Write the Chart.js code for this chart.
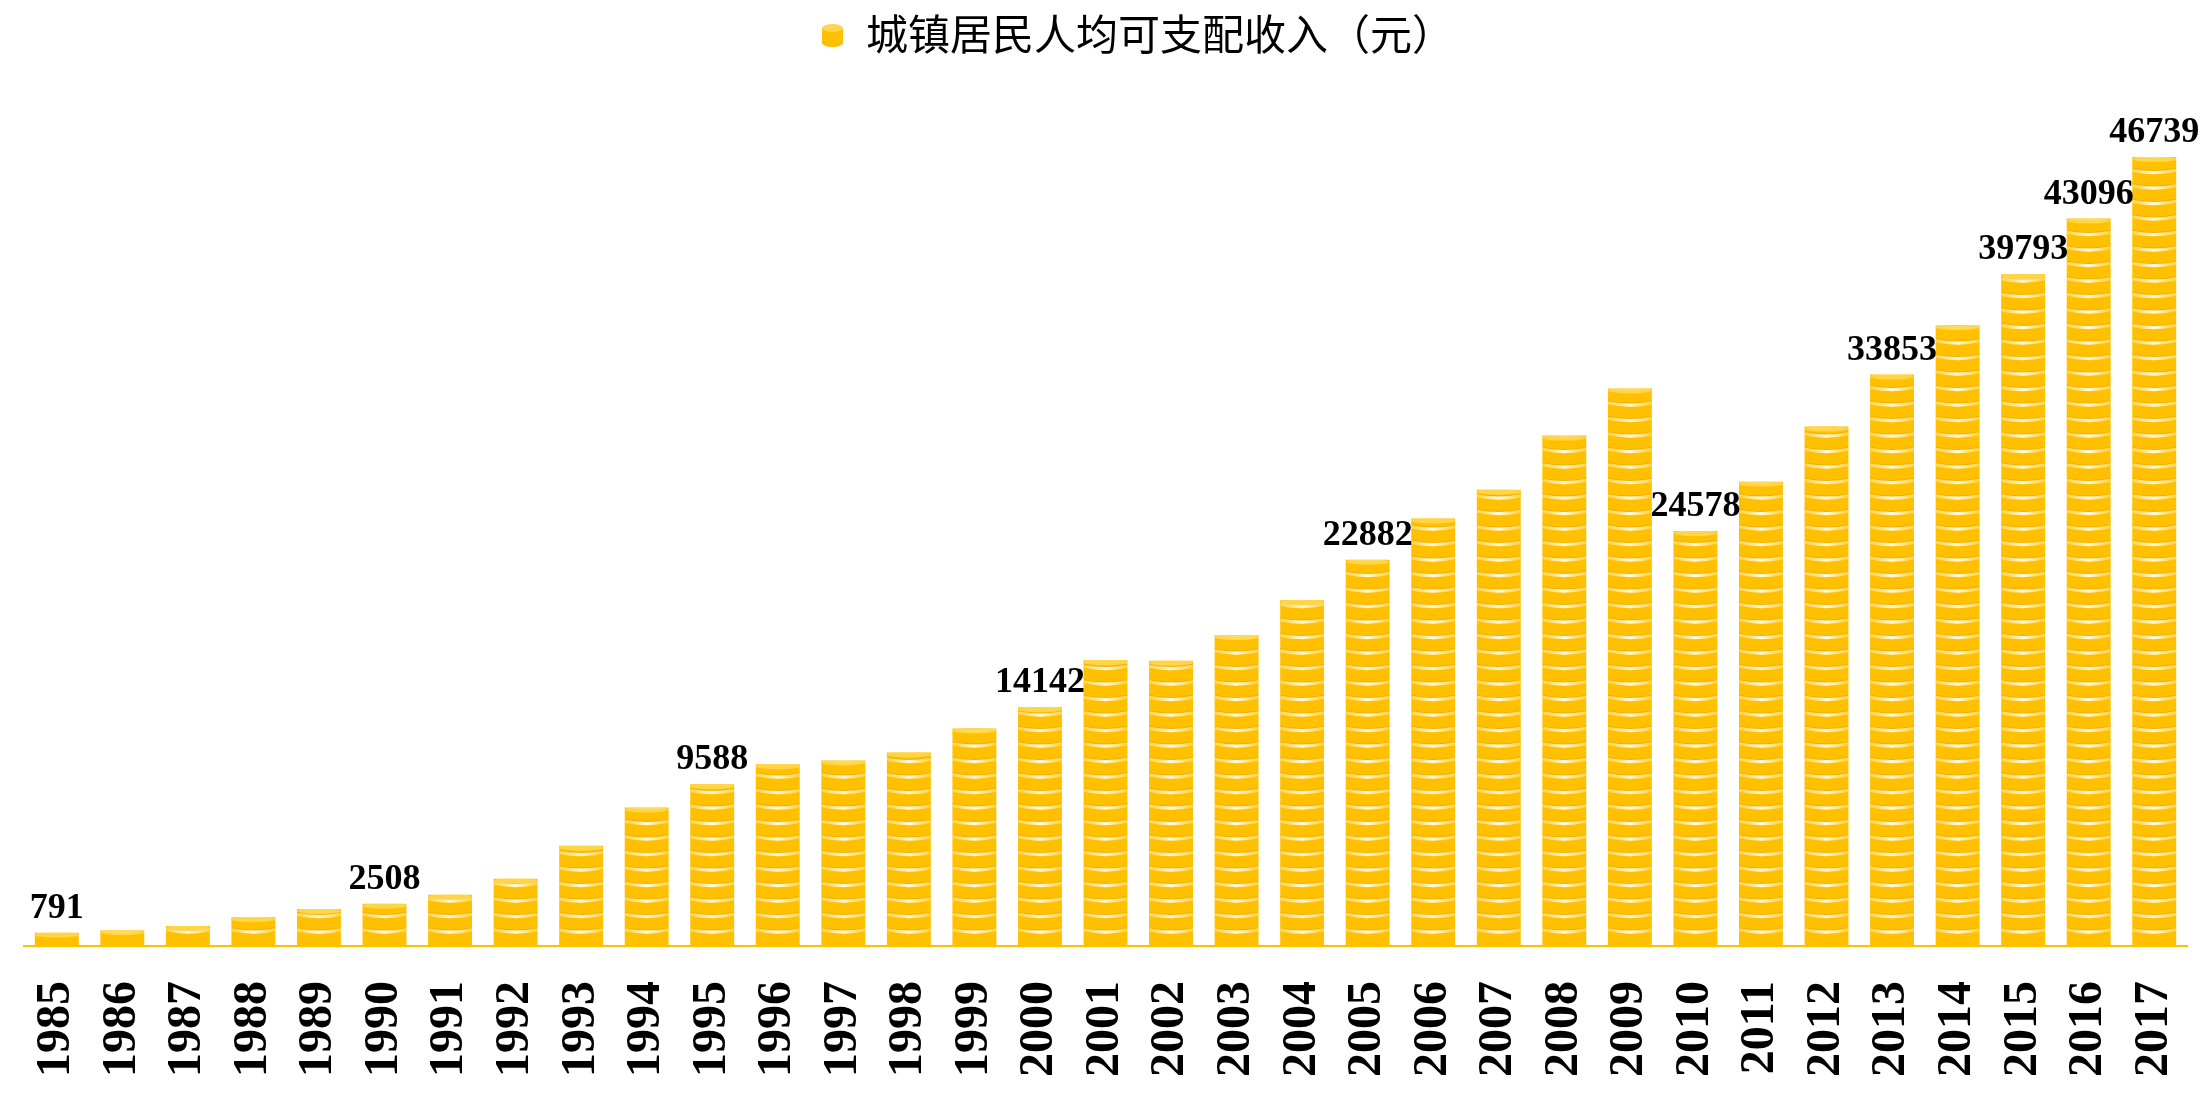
<!DOCTYPE html>
<html>
<head>
<meta charset="utf-8">
<script src="https://cdn.jsdelivr.net/npm/chart.js@4.4.0/dist/chart.umd.min.js"></script>
<style>
  html, body { margin: 0; padding: 0; background: #fff; }
</style>
</head>
<body>
<canvas id="incomeChart" width="2209" height="1103"></canvas>
<script>
// data
const years = ['1985', '1986', '1987', '1988', '1989', '1990', '1991', '1992', '1993', '1994',
  '1995', '1996', '1997', '1998', '1999', '2000', '2001', '2002', '2003', '2004', '2005',
  '2006', '2007', '2008', '2009', '2010', '2011', '2012', '2013', '2014', '2015', '2016', '2017'];
const income = [791, 933, 1188, 1705, 2198, 2508, 3030, 3980, 5941, 8199,
  9588, 10771, 10991, 11466, 12892, 14142, 16932, 16900, 18417, 20479, 22882,
  25327, 27032, 30240, 33030, 24578, 27507, 30774, 33853, 36775, 39793, 43096, 46739];
const labeledYears = ['1985', '1990', '1995', '2000', '2005', '2010', '2013', '2015', '2016', '2017'];
const seriesName = '城镇居民人均可支配收入（元）';

const GOLD = '#FFC000';
const COIN_H = 15.5;

// coin stripes drawn over each bar
const coinPlugin = {
  id: 'coins',
  afterDatasetsDraw(chart) {
    const ctx = chart.ctx;
    chart.getDatasetMeta(0).data.forEach(bar => {
      const { x, y, base, width } = bar.getProps(['x', 'y', 'base', 'width'], true);
      const left = x - width / 2, right = x + width / 2;
      ctx.save();
      ctx.beginPath();
      ctx.rect(left, y, width, base - y);
      ctx.clip();
      const grad = ctx.createLinearGradient(left, 0, right, 0);
      grad.addColorStop(0, 'rgba(255,225,130,0.6)');
      grad.addColorStop(0.5, 'rgba(255,250,230,1)');
      grad.addColorStop(1, 'rgba(255,225,130,0.6)');
      for (let cy = base - COIN_H + 0.8; cy > y - 2; cy -= COIN_H) {
        // thin darker rim just above the light edge
        ctx.strokeStyle = 'rgba(230,160,0,0.5)';
        ctx.lineWidth = 1;
        ctx.beginPath();
        ctx.moveTo(left, cy - 3.5);
        ctx.quadraticCurveTo(x, cy + 1, right, cy - 3.5);
        ctx.stroke();
        ctx.strokeStyle = grad;
        ctx.lineWidth = 3.2;
        ctx.beginPath();
        ctx.moveTo(left, cy - 1.5);
        ctx.quadraticCurveTo(x, cy + 3, right, cy - 1.5);
        ctx.stroke();
      }
      // lighter top face
      ctx.fillStyle = 'rgba(255,215,80,0.9)';
      ctx.beginPath();
      ctx.ellipse(x, y + 2, width / 2, 3, 0, 0, Math.PI * 2);
      ctx.fill();
      ctx.restore();
    });
  }
};

// value labels on selected bars
const valueLabels = {
  id: 'valueLabels',
  afterDatasetsDraw(chart) {
    const ctx = chart.ctx;
    const meta = chart.getDatasetMeta(0);
    ctx.save();
    ctx.font = 'bold 36px "Liberation Serif", "Times New Roman", serif';
    ctx.fillStyle = '#000';
    ctx.textAlign = 'center';
    ctx.textBaseline = 'alphabetic';
    years.forEach((yr, i) => {
      if (!labeledYears.includes(yr)) return;
      const bar = meta.data[i];
      ctx.fillText(String(income[i]), bar.x, bar.y - 15);
    });
    ctx.restore();
  }
};

// legend: small coin-stack icon + series name
const coinLegend = {
  id: 'coinLegend',
  afterDraw(chart) {
    const ctx = chart.ctx;
    const ix = 822, iy = 24, iw = 21, ih = 23;
    ctx.save();
    ctx.fillStyle = GOLD;
    ctx.beginPath();
    ctx.moveTo(ix, iy + 4);
    ctx.lineTo(ix, iy + ih - 4);
    ctx.ellipse(ix + iw / 2, iy + ih - 4, iw / 2, 4, 0, Math.PI, 0, true);
    ctx.lineTo(ix + iw, iy + 4);
    ctx.closePath();
    ctx.fill();
    ctx.fillStyle = '#FFD54F';
    ctx.beginPath();
    ctx.ellipse(ix + iw / 2, iy + 4, iw / 2, 4, 0, 0, Math.PI * 2);
    ctx.fill();
    ctx.font = '42px "Noto Sans CJK SC", sans-serif';
    ctx.fillStyle = '#000';
    ctx.textAlign = 'left';
    ctx.textBaseline = 'middle';
    ctx.fillText(chart.data.datasets[0].label, 866, 34);
    ctx.restore();
  }
};

new Chart(document.getElementById('incomeChart'), {
  type: 'bar',
  data: {
    labels: years,
    datasets: [{
      label: seriesName,
      data: income,
      backgroundColor: GOLD,
      borderWidth: 0,
      barPercentage: 0.67,
      categoryPercentage: 1
    }]
  },
  options: {
    responsive: false,
    animation: false,
    layout: { padding: { top: 102, left: 24, right: 22, bottom: -1 } },
    plugins: {
      legend: { display: false },
      tooltip: { enabled: false }
    },
    scales: {
      x: {
        grid: { display: false },
        border: { color: GOLD, width: 2 },
        afterFit(scale) {
          // rotated labels fit inside the bar slots, no extra side padding
          scale.paddingLeft = 0;
          scale.paddingRight = 0;
        },
        ticks: {
          autoSkip: false,
          minRotation: 90,
          maxRotation: 90,
          padding: 27,
          color: '#000',
          font: { family: '"Liberation Serif", "Times New Roman", serif', size: 48, weight: 'bold' }
        }
      },
      y: {
        display: false,
        min: 0,
        max: 50000
      }
    }
  },
  plugins: [coinPlugin, valueLabels, coinLegend]
});
</script>
</body>
</html>
